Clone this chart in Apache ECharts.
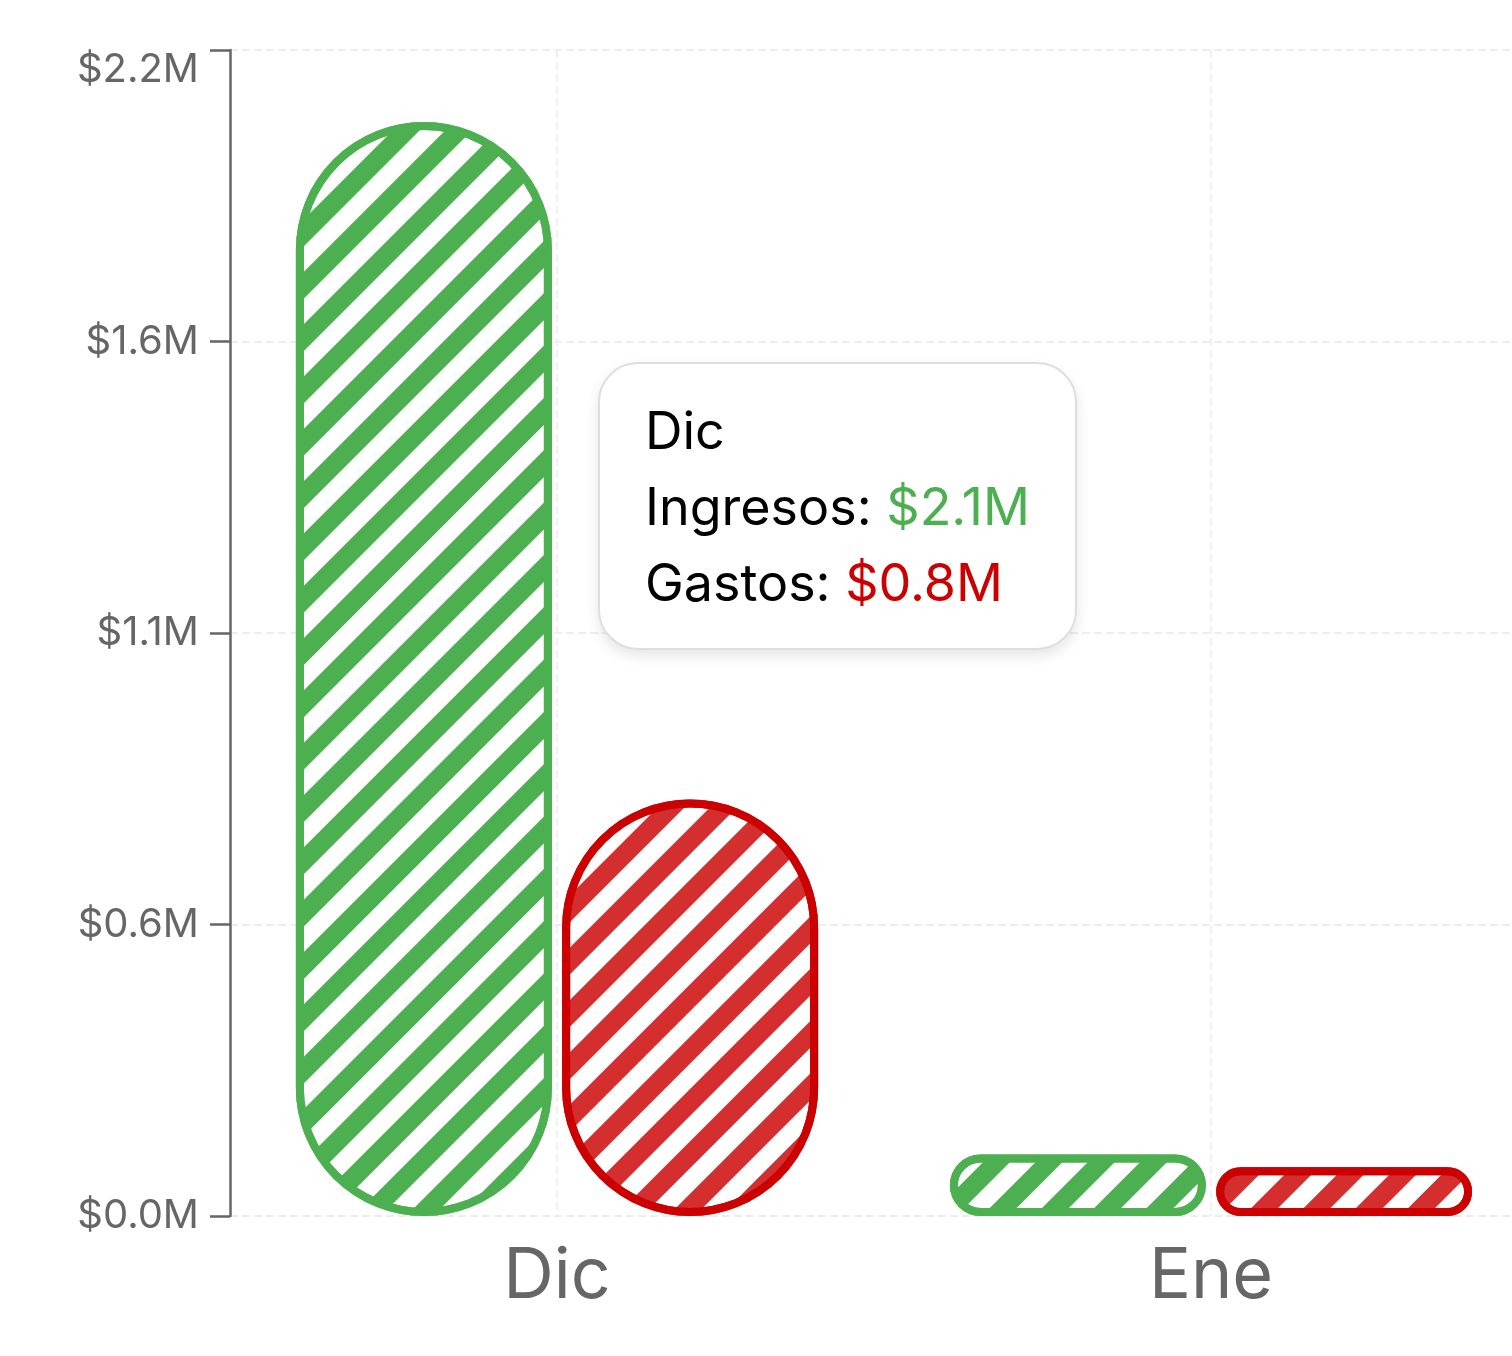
<!DOCTYPE html>
<html>
<head>
<meta charset="utf-8">
<title>Ingresos vs Gastos</title>
<script src="https://cdn.jsdelivr.net/npm/echarts@6/dist/echarts.min.js"></script>
<style>
  html, body { margin: 0; padding: 0; background: #fff; }
  #main { width: 1512px; height: 1356px; }
</style>
</head>
<body>
<div id="main"></div>
<script>
var months = ['Dic', 'Ene'];
var ingresos = [2064000, 116000];
var gastos = [786000, 92000];
var yTickLabels = ['$0.0M', '$0.6M', '$1.1M', '$1.6M', '$2.2M'];
var yMax = 2200000;
var yStep = 550000;

var GREEN = '#4caf50';
var RED = '#cc0000';
var FONT = 'Inter, "Noto Sans", sans-serif';

function money(v) {
  return '$' + (v / 1e6).toFixed(1) + 'M';
}

// diagonal hatching, rising to the right
function stripes(color) {
  return {
    symbol: 'rect',
    symbolSize: 1,
    color: color,
    dashArrayX: [1, 0],
    dashArrayY: [19, 18],
    rotation: -Math.PI / 4
  };
}

var chart = echarts.init(document.getElementById('main'));

chart.setOption({
  animation: false,
  backgroundColor: '#fff',
  grid: {
    left: 230,
    right: -26,
    top: 50,
    bottom: 140,
    containLabel: false,
    outerBoundsMode: 'none'
  },
  tooltip: {
    trigger: 'axis',
    triggerOn: 'none',
    alwaysShowContent: true,
    axisPointer: { type: 'none' },
    transitionDuration: 0,
    position: [598, 362],
    backgroundColor: '#fff',
    borderColor: '#dedede',
    borderWidth: 2,
    padding: [29, 45, 27, 45],
    textStyle: { fontFamily: FONT, fontSize: 52, color: '#000' },
    extraCssText: 'border-radius:40px;box-shadow:0 6px 14px rgba(0,0,0,0.10);white-space:nowrap;',
    formatter: function (params) {
      var i = params[0].dataIndex;
      return '<div style="line-height:76px">' + months[i] + '</div>' +
        '<div style="line-height:76px">Ingresos: <span style="color:' + GREEN + '">' + money(ingresos[i]) + '</span></div>' +
        '<div style="line-height:76px">Gastos: <span style="color:' + RED + '">' + money(gastos[i]) + '</span></div>';
    }
  },
  xAxis: {
    type: 'category',
    data: months,
    axisLine: { show: false },
    axisTick: { show: false },
    axisLabel: { color: '#666', fontSize: 70, fontFamily: FONT, margin: 26 },
    splitLine: {
      show: true,
      alignWithLabel: true,
      lineStyle: { color: '#f0f0f0', type: 'dashed', width: 2 }
    }
  },
  yAxis: {
    type: 'value',
    min: 0,
    max: yMax,
    interval: yStep,
    axisLine: { show: true, lineStyle: { color: '#666', width: 2.5 } },
    axisTick: { show: true, length: 20, lineStyle: { color: '#666', width: 2.5 } },
    axisLabel: {
      color: '#666',
      fontSize: 40,
      fontFamily: FONT,
      margin: 31,
      verticalAlignMaxLabel: 'top',
      formatter: function (v, idx) { return yTickLabels[idx]; }
    },
    splitLine: { lineStyle: { color: '#eeeeee', type: 'dashed', width: 2 } }
  },
  series: [
    {
      name: 'Ingresos',
      type: 'bar',
      data: ingresos,
      barWidth: 256,
      barGap: '4%',
      itemStyle: {
        color: '#fff',
        borderColor: GREEN,
        borderWidth: 8,
        borderRadius: 400,
        decal: stripes(GREEN)
      }
    },
    {
      name: 'Gastos',
      type: 'bar',
      data: gastos,
      barWidth: 256,
      itemStyle: {
        color: '#fff',
        borderColor: RED,
        borderWidth: 8,
        borderRadius: 400,
        decal: stripes('rgba(204,0,0,0.82)')
      }
    }
  ]
});

chart.dispatchAction({ type: 'showTip', seriesIndex: 0, dataIndex: 0 });
</script>
</body>
</html>
